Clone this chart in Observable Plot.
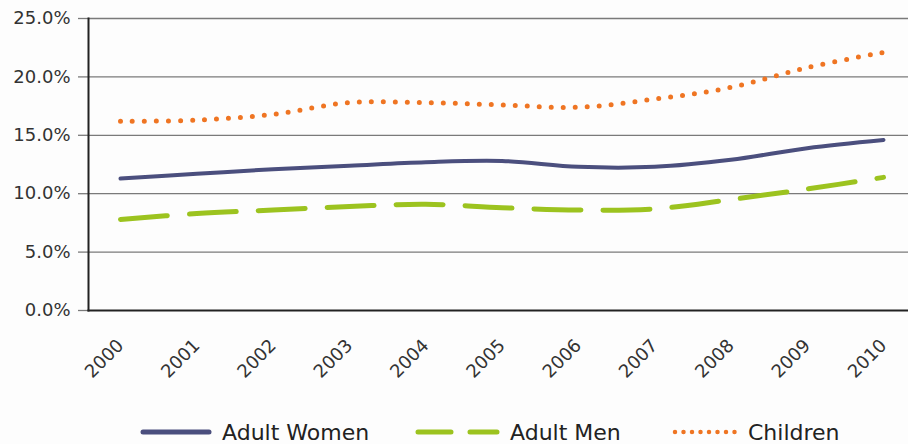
<!DOCTYPE html>
<html><head><meta charset="utf-8">
<script src="https://cdn.jsdelivr.net/npm/d3@7"></script>
<script src="https://cdn.jsdelivr.net/npm/@observablehq/plot@0.6"></script>
<style>
body{margin:0;background:#fdfdfd;font-family:"DejaVu Sans",sans-serif;}
#wrap{width:908px;height:444px;position:relative;overflow:hidden;}
#legend{position:absolute;left:0;top:400px;width:908px;height:44px;}
.item{position:absolute;top:18px;height:28px;display:flex;align-items:center;font-size:22px;color:#222;white-space:nowrap;}
.item svg{margin-right:10px;}
</style></head>
<body><div id="wrap"><div id="chart"></div><div id="legend"></div></div>
<script>
const years = [2000,2001,2002,2003,2004,2005,2006,2007,2008,2009,2010];
const adultWomen = [11.3,11.7,12.1,12.4,12.7,12.8,12.3,12.3,12.9,13.9,14.6];
const adultMen   = [7.8,8.3,8.6,8.9,9.1,8.8,8.6,8.7,9.5,10.4,11.4];
const children   = [16.2,16.3,16.8,17.8,17.8,17.6,17.4,18.1,19.1,20.8,22.1];
const seriesNames = ["Adult Women","Adult Men","Children"];
const yTicks = [0,5,10,15,20,25];

const styles = {
  "Adult Women": {stroke:"#4b4f7e", strokeWidth:4, dash:null, cap:"round"},
  "Adult Men":   {stroke:"#9cc31f", strokeWidth:5, dash:"47,22", cap:"round"},
  "Children":    {stroke:"#ef7523", strokeWidth:5, dash:"0,12", cap:"round"}
};
const values = {"Adult Women":adultWomen,"Adult Men":adultMen,"Children":children};
const rows = seriesNames.flatMap(s => years.map((y,i)=>({series:s, year:y, value:values[s][i]})));

const lineMarks = seriesNames.map(s => Plot.line(rows.filter(r=>r.series===s), {
  x:"year", y:"value", curve:"catmull-rom",
  stroke:styles[s].stroke, strokeWidth:styles[s].strokeWidth,
  strokeDasharray:styles[s].dash, strokeLinecap:styles[s].cap, strokeLinejoin:"round"
}));

const chart = Plot.plot({
  width:908, height:400,
  marginLeft:88, marginRight:0, marginTop:18, marginBottom:90,
  insetLeft:32, insetRight:25,
  style:{fontFamily:"DejaVu Sans, sans-serif", background:"transparent"},
  x:{domain:[2000,2010], axis:null},
  y:{domain:[0,25], axis:null},
  marks:[
    Plot.gridY(yTicks.slice(1), {stroke:"#7a7a7a", strokeOpacity:1, strokeWidth:1.3}),
    Plot.axisY(yTicks, {tickSize:10, tickPadding:8, stroke:"#7a7a7a", strokeWidth:1.3,
      fontSize:18, fill:"#333", label:null, tickFormat:d=>d.toFixed(1)+"%"}),
    Plot.frame({anchor:"left", stroke:"#222", strokeWidth:2}),
    Plot.frame({anchor:"bottom", stroke:"#222", strokeWidth:2}),
    ...lineMarks,
    Plot.text(years, {x:d=>d, frameAnchor:"bottom", dy:32, rotate:-45, textAnchor:"end",
      lineAnchor:"middle", fontSize:18, fill:"#333", text:d=>String(d)})
  ]
});
document.getElementById("chart").appendChild(chart);

const legendPos = {"Adult Women":[140,72],"Adult Men":[415,85],"Children":[672,66]};
const legend = document.getElementById("legend");
for (const s of seriesNames) {
  const st = styles[s];
  const [left,w] = legendPos[s];
  const div = document.createElement("div");
  div.className = "item"; div.style.left = left+"px";
  const dash = s==="Adult Men" ? "33,19" : (s==="Children" ? "0,8.5" : "none");
  const sw = s==="Children" ? 4.5 : 5;
  div.innerHTML = `<svg width="${w}" height="10"><line x1="3" y1="5" x2="${w-3}" y2="5" stroke="${st.stroke}" stroke-width="${sw}" stroke-linecap="round" stroke-dasharray="${dash}"/></svg><span>${s}</span>`;
  legend.appendChild(div);
}
</script></body></html>
